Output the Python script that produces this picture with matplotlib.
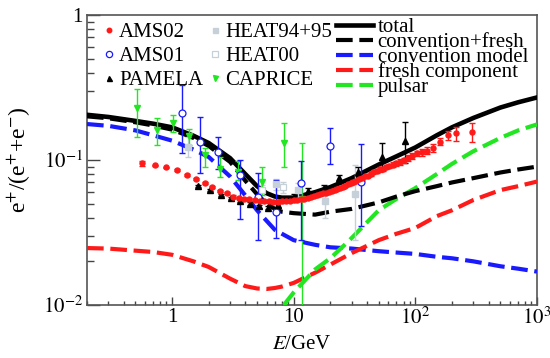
import matplotlib
matplotlib.use("Agg")
import matplotlib.pyplot as plt
from matplotlib.ticker import FuncFormatter, LogLocator, NullFormatter

plt.rcParams['font.family'] = ['Liberation Serif', 'DejaVu Serif']
plt.rcParams['mathtext.fontset'] = 'stix'

# model curves
curve_e = [0.2, 0.3, 0.5, 0.7, 1.0, 1.5, 2.0, 3.0, 4.0, 5.0, 6.0, 7.0, 8.0, 10, 15, 20, 30, 50, 70,
           100, 150, 200, 300, 500, 700, 1000]
total = [0.205, 0.198, 0.186, 0.178, 0.168, 0.147, 0.131, 0.103, 0.080, 0.066, 0.059, 0.056, 0.055,
         0.055, 0.060, 0.065, 0.075, 0.093, 0.106, 0.122, 0.148, 0.168, 0.195, 0.230, 0.250, 0.270]
conv_fresh = [0.200, 0.194, 0.182, 0.173, 0.162, 0.142, 0.125, 0.097, 0.072, 0.058, 0.050, 0.046,
              0.044, 0.043, 0.042, 0.044, 0.046, 0.051, 0.056, 0.061, 0.066, 0.070, 0.075, 0.082,
              0.086, 0.090]
convention = [0.177, 0.172, 0.160, 0.148, 0.136, 0.118, 0.105, 0.077, 0.057, 0.045, 0.038, 0.033,
              0.031, 0.028, 0.026, 0.025, 0.0245, 0.0235, 0.023, 0.0225, 0.0215, 0.021, 0.020,
              0.0185, 0.0178, 0.017]
fresh = [0.0247, 0.0245, 0.0237, 0.0232, 0.0222, 0.0200, 0.0183, 0.0152, 0.0135, 0.0130, 0.0129,
         0.0131, 0.0134, 0.0142, 0.0167, 0.0190, 0.0228, 0.028, 0.031, 0.034, 0.041, 0.045, 0.053,
         0.062, 0.066, 0.071]
pulsar_e = [8.3, 10, 15, 20, 25, 30, 50, 70, 100, 150, 200, 300, 500, 700, 1000]
pulsar = [0.0100, 0.0122, 0.0176, 0.021, 0.025, 0.029, 0.045, 0.054, 0.064, 0.080, 0.094, 0.115,
          0.142, 0.160, 0.176]

# AMS02
ams02_e = [0.57, 0.72, 0.9, 1.1, 1.33, 1.58, 1.85, 2.15, 2.48, 2.82,
           3.18, 3.54, 3.92, 4.33, 4.77, 5.24, 5.74, 6.27, 6.82, 7.39,
           8.0, 8.62, 9.28, 9.97, 10.68, 11.42, 12.19, 13.0, 13.83, 14.69,
           15.6, 16.52, 17.49, 18.49, 19.51, 20.58, 21.69, 22.83, 24.02, 25.26,
           26.57, 27.96, 29.44, 31.01, 32.67, 34.44, 36.33, 38.35, 40.5, 42.8,
           45.28, 47.95, 50.83, 53.95, 57.35, 61.07, 65.16, 69.68, 74.71, 80.36,
           86.77, 94.13, 102.7, 112.9, 125.3, 140.5, 159.4, 183.8, 217.4, 293.6]
ams02_y = [0.095, 0.092, 0.089, 0.085, 0.079, 0.074, 0.069, 0.065, 0.061, 0.059,
           0.056, 0.055, 0.054, 0.0535, 0.053, 0.0525, 0.052, 0.0518, 0.0516, 0.0516,
           0.0518, 0.052, 0.0522, 0.0526, 0.053, 0.0535, 0.054, 0.0547, 0.0555, 0.0562,
           0.057, 0.058, 0.0588, 0.0596, 0.0605, 0.0615, 0.0625, 0.0635, 0.0645, 0.0655,
           0.0665, 0.068, 0.069, 0.0705, 0.072, 0.0735, 0.075, 0.077, 0.078, 0.080,
           0.082, 0.0835, 0.086, 0.087, 0.089, 0.091, 0.093, 0.095, 0.097, 0.100,
           0.103, 0.106, 0.111, 0.113, 0.116, 0.121, 0.134, 0.148, 0.153, 0.156]
ams02_err = [0.004, 0.001, 0.001, 0.001, 0.001, 0.001, 0.001, 0.001, 0.001, 0.001,
             0.001, 0.001, 0.001, 0.001, 0.001, 0.001, 0.001, 0.001, 0.001, 0.001,
             0.001, 0.001, 0.001, 0.001, 0.001, 0.001, 0.001, 0.001, 0.001, 0.001,
             0.0012, 0.0012, 0.0012, 0.0012, 0.0012, 0.0012, 0.0012, 0.0012, 0.0012, 0.0012,
             0.0015, 0.0015, 0.0015, 0.0018, 0.0018, 0.0018, 0.002, 0.002, 0.002, 0.0025,
             0.0025, 0.0025, 0.003, 0.003, 0.003, 0.0035, 0.0035, 0.004, 0.004, 0.004,
             0.0045, 0.005, 0.005, 0.006, 0.006, 0.007, 0.008, 0.010, 0.017, 0.023]

# AMS01
ams01_e = [1.2, 1.7, 2.4, 3.65, 5.1, 7.1, 11.4, 19.8, 36.0]
ams01_y = [0.211, 0.133, 0.114, 0.079, 0.056, 0.044, 0.069, 0.125, 0.0705]
ams01_lo = [0.112, 0.081, 0.087, 0.039, 0.028, 0.029, 0.028, 0.094, 0.035]
ams01_hi = [0.330, 0.198, 0.144, 0.100, 0.081, 0.073, 0.098, 0.166, 0.128]

# PAMELA
pam_e = [1.65, 2.07, 2.52, 3.03, 3.63, 4.35, 5.2, 6.2, 7.5, 10.0, 13.0, 17.7, 23.5, 34.0, 53.0, 83.0]
pam_y = [0.066, 0.062, 0.0575, 0.0545, 0.052, 0.050, 0.048, 0.047, 0.049, 0.0557, 0.061, 0.064,
         0.075, 0.083, 0.105, 0.135]
pam_lo = [0.065, 0.061, 0.0565, 0.0535, 0.051, 0.049, 0.047, 0.046, 0.047, 0.053, 0.058, 0.061,
          0.071, 0.077, 0.085, 0.095]
pam_hi = [0.067, 0.063, 0.0585, 0.0555, 0.053, 0.051, 0.049, 0.048, 0.051, 0.058, 0.064, 0.067,
          0.079, 0.090, 0.131, 0.183]

# HEAT
heat95_e = [1.35, 7.2, 10.8, 18.0, 32.0]
heat95_y = [0.123, 0.068, 0.062, 0.052, 0.058]
heat95_lo = [0.105, 0.062, 0.055, 0.040, 0.028]
heat95_hi = [0.145, 0.074, 0.069, 0.060, 0.092]
heat00_e = [5.5, 8.1]
heat00_y = [0.062, 0.065]
heat00_lo = [0.057, 0.059]
heat00_hi = [0.067, 0.071]

# CAPRICE
cap_e = [0.52, 0.75, 1.02, 1.38, 1.87, 2.5, 3.5, 5.5, 8.4, 11.8]
cap_y = [0.228, 0.161, 0.180, 0.146, 0.108, 0.087, 0.083, 0.071, 0.131, 0.054]
cap_lo = [0.144, 0.127, 0.156, 0.127, 0.089, 0.076, 0.073, 0.057, 0.089, 0.001]
cap_hi = [0.310, 0.195, 0.205, 0.163, 0.121, 0.105, 0.098, 0.089, 0.180, 0.131]

RED = '#ff1a1a'
BLUE = '#1a1aff'
GREEN = '#22e622'
HEATC = '#c5d0d8'

fig = plt.figure(figsize=(5.5, 3.58), dpi=100)
ax = fig.add_axes([87 / 550, 1 - 305 / 358, 450 / 550, 290 / 358])
ax.set_xscale('log')
ax.set_yscale('log')

lw = 3.0
dash = (4, 1.6)
l_tot, = ax.plot(curve_e, total, color='black', lw=3.3, label='total', zorder=4)
l_cf, = ax.plot(curve_e, conv_fresh, color='black', lw=lw, dashes=dash, label='convention+fresh', zorder=4)
l_cv, = ax.plot(curve_e, convention, color=BLUE, lw=lw, dashes=dash, label='convention model', zorder=3)
l_fr, = ax.plot(curve_e, fresh, color=RED, lw=lw, dashes=dash, label='fresh component', zorder=3)
l_ps, = ax.plot(pulsar_e, pulsar, color=GREEN, lw=lw, dashes=dash, label='pulsar', zorder=3)


def yerr(y, lo, hi):
    return [[a - b for a, b in zip(y, lo)], [b - a for a, b in zip(y, hi)]]


eb = dict(fmt='none', elinewidth=1.0, capsize=2, capthick=1.0, zorder=5)
ax.errorbar(heat95_e, heat95_y, yerr=yerr(heat95_y, heat95_lo, heat95_hi), ecolor=HEATC, **eb)
ax.errorbar(heat00_e, heat00_y, yerr=yerr(heat00_y, heat00_lo, heat00_hi), ecolor=HEATC, **eb)
ax.errorbar(cap_e, cap_y, yerr=yerr(cap_y, cap_lo, cap_hi), ecolor=GREEN, **eb)
ax.errorbar(ams01_e, ams01_y, yerr=yerr(ams01_y, ams01_lo, ams01_hi), ecolor=BLUE, **eb)
ax.errorbar(pam_e, pam_y, yerr=yerr(pam_y, pam_lo, pam_hi), ecolor='black', **eb)
ax.errorbar(ams02_e, ams02_y, yerr=ams02_err, ecolor=RED, **eb)

m_h95, = ax.plot(heat95_e, heat95_y, 's', ms=4, color=HEATC, ls='none', label='HEAT94+95', zorder=6)
m_h00, = ax.plot(heat00_e, heat00_y, 's', ms=4.5, mfc='white', mec=HEATC, mew=0.9, ls='none',
                 label='HEAT00', zorder=6)
m_cap, = ax.plot(cap_e, cap_y, 'v', ms=4, color=GREEN, ls='none', label='CAPRICE', zorder=6)
m_a01, = ax.plot(ams01_e, ams01_y, 'o', ms=5, mfc='white', mec=BLUE, mew=0.9, ls='none',
                 label='AMS01', zorder=6)
m_pam, = ax.plot(pam_e, pam_y, '^', ms=4, color='black', ls='none', label='PAMELA', zorder=6)
m_a02, = ax.plot(ams02_e, ams02_y, 'o', ms=3.6, color=RED, ls='none', label='AMS02', zorder=7)

ax.set_xlim(0.2, 1000)
ax.set_ylim(0.01, 1)

labels = {1: '1', 10: '10', 100: r'$10^{2}$', 1000: r'$10^{3}$', 0.1: r'$10^{-1}$', 0.01: r'$10^{-2}$'}


def fmt(v, pos):
    for k, s in labels.items():
        if abs(v - k) < 1e-6 * k:
            return s
    return ''


ax.xaxis.set_major_formatter(FuncFormatter(fmt))
ax.yaxis.set_major_formatter(FuncFormatter(fmt))
ax.xaxis.set_minor_formatter(NullFormatter())
ax.yaxis.set_minor_formatter(NullFormatter())
ax.xaxis.set_minor_locator(LogLocator(base=10, subs=range(2, 10), numticks=20))
ax.yaxis.set_minor_locator(LogLocator(base=10, subs=range(2, 10), numticks=20))

ax.tick_params(axis='both', which='both', direction='in', top=False, right=False,
               colors='#444444', labelcolor='black', labelsize=15, width=1.0)
ax.tick_params(axis='x', which='major', length=5.8, pad=2)
ax.tick_params(axis='x', which='minor', length=2.9)
ax.tick_params(axis='y', which='major', length=9.4, pad=3)
ax.tick_params(axis='y', which='minor', length=5)
for s in ax.spines.values():
    s.set_color('#555555')
    s.set_linewidth(1.2)

ax.set_xlabel(r'$E$/GeV', fontsize=15)
ax.xaxis.set_label_coords(0.477, -0.105)
ax.set_ylabel(r'e$^{+}$/(e$^{+}$+e$^{-}$)', fontsize=17)
ax.yaxis.set_label_coords(-0.12, 0.5)

leg1 = ax.legend(handles=[m_a02, m_a01, m_pam, m_h95, m_h00, m_cap], ncol=2, loc='upper left',
                 bbox_to_anchor=(0.011, 1.018), frameon=False, fontsize=15, handlelength=0.45,
                 handletextpad=0.25, labelspacing=0.22, columnspacing=0.35, borderaxespad=0.2,
                 markerscale=0.9)
ax.add_artist(leg1)
ax.legend(handles=[l_tot, l_cf, l_cv, l_fr, l_ps], loc='upper left', bbox_to_anchor=(0.535, 1.02),
          frameon=False, fontsize=15, handlelength=1.75, handletextpad=0.25, labelspacing=-0.22,
          borderaxespad=0.0)

fig.savefig('out.png', dpi=100)
